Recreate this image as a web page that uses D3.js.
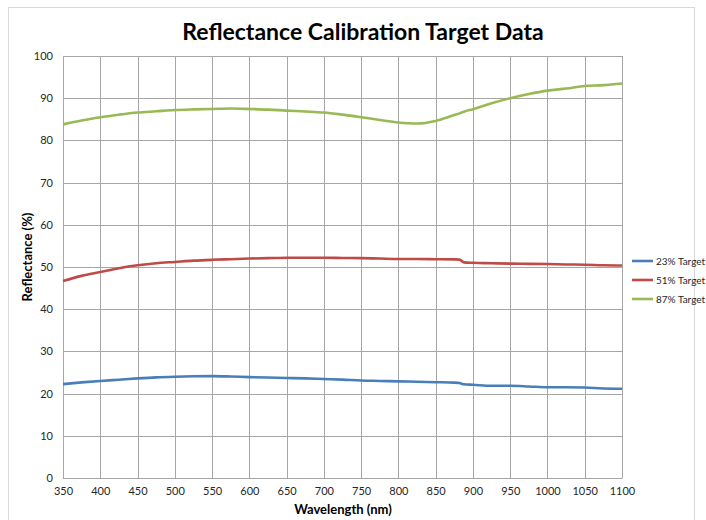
<!DOCTYPE html>
<html>
<head>
<meta charset="utf-8">
<script src="https://cdn.jsdelivr.net/npm/d3@7"></script>
<style>
  html, body { margin: 0; padding: 0; background: #fff; }
  svg { display: block; font-family: Lato, "Open Sans", "Liberation Sans", sans-serif; }
</style>
</head>
<body>
<svg id="chart" width="706" height="520"></svg>
<script>
// Wavelength samples (nm)
const wavelengths = [350,375,400,425,450,475,500,525,550,575,600,625,650,675,700,725,750,775,800,825,850,875,882,888,900,925,950,975,1000,1025,1050,1075,1100];

// Reflectance (%) of each calibration target
const target23 = [22.25,22.65,23.0,23.3,23.6,23.85,24.0,24.1,24.15,24.05,23.9,23.8,23.7,23.6,23.45,23.3,23.1,23.0,22.9,22.8,22.7,22.6,22.5,22.2,22.1,21.85,21.85,21.7,21.5,21.5,21.45,21.2,21.15];
const target51 = [46.7,47.9,48.8,49.7,50.4,50.9,51.2,51.5,51.7,51.85,52.0,52.1,52.2,52.2,52.2,52.15,52.1,52.0,51.9,51.9,51.85,51.8,51.75,51.1,51.0,50.9,50.8,50.75,50.7,50.6,50.55,50.4,50.35];
const target87 = [83.8,84.7,85.5,86.1,86.6,86.9,87.2,87.35,87.45,87.55,87.45,87.3,87.05,86.85,86.6,86.1,85.5,84.85,84.25,84.0,84.6,86.0,86.4,86.8,87.4,88.8,90.0,91.0,91.8,92.3,92.9,93.1,93.5];

const seriesNames = ["23% Target", "51% Target", "87% Target"];
const seriesColors = ["#4a7ebb", "#be4b48", "#98b954"];
const seriesValues = [target23, target51, target87];

const xTicks = d3.range(350, 1101, 50);
const yTicks = d3.range(0, 101, 10);

const svg = d3.select("#chart");
const margin = { left: 63, right: 84, top: 56, bottom: 42 };
const plotW = 622 - margin.left, plotH = 478 - margin.top;

// outer chart frame
svg.append("rect")
  .attr("x", 8.5).attr("y", 7.5).attr("width", 686).attr("height", 530)
  .attr("fill", "none").attr("stroke", "#d9d9d9").attr("stroke-width", 1);

const x = d3.scaleLinear().domain([350, 1100]).range([margin.left, margin.left + plotW]);
const y = d3.scaleLinear().domain([0, 100]).range([margin.top + plotH, margin.top]);

// gridlines
const grid = svg.append("g").attr("stroke", "#a6a6a6").attr("stroke-width", 1);
grid.selectAll("line.v").data(xTicks).join("line")
  .attr("x1", d => Math.round(x(d)) + 0.5).attr("x2", d => Math.round(x(d)) + 0.5)
  .attr("y1", y(0)).attr("y2", y(100));
grid.selectAll("line.h").data(yTicks).join("line")
  .attr("y1", d => Math.round(y(d)) + 0.5).attr("y2", d => Math.round(y(d)) + 0.5)
  .attr("x1", x(350)).attr("x2", x(1100));

// axes (labels only; the grid carries the lines)
const xAxis = svg.append("g")
  .attr("transform", `translate(0,${y(0)})`)
  .call(d3.axisBottom(x).tickValues(xTicks).tickFormat(d3.format("d")).tickSize(0).tickPadding(9));
const yAxis = svg.append("g")
  .attr("transform", `translate(${x(350)},0)`)
  .call(d3.axisLeft(y).tickValues(yTicks).tickFormat(d3.format("d")).tickSize(0).tickPadding(10));
[xAxis, yAxis].forEach(a => {
  a.select(".domain").attr("stroke", "#a6a6a6");
  a.selectAll("text").attr("font-size", 11).attr("fill", "#262626")
    .attr("font-family", "Lato, 'Open Sans', sans-serif");
});

// series lines
const line = d3.line()
  .x((d, i) => x(wavelengths[i]))
  .y(d => y(d))
  .curve(d3.curveMonotoneX);

seriesValues.forEach((vals, k) => {
  svg.append("path")
    .datum(vals)
    .attr("d", line)
    .attr("fill", "none")
    .attr("stroke", seriesColors[k])
    .attr("stroke-width", 2.6)
    .attr("stroke-linejoin", "round");
});

// title
svg.append("text")
  .attr("x", 363).attr("y", 40)
  .attr("text-anchor", "middle")
  .attr("font-size", 23).attr("font-weight", "bold").attr("fill", "#000")
  .text("Reflectance Calibration Target Data");

// axis titles
svg.append("text")
  .attr("x", 343).attr("y", 514)
  .attr("text-anchor", "middle")
  .attr("font-size", 13).attr("font-weight", "bold").attr("fill", "#000")
  .text("Wavelength (nm)");
svg.append("text")
  .attr("transform", "translate(32,257) rotate(-90)")
  .attr("text-anchor", "middle")
  .attr("font-size", 13).attr("font-weight", "bold").attr("fill", "#000")
  .text("Reflectance (%)");

// legend
const legend = svg.append("g");
seriesNames.forEach((name, k) => {
  const ly = 261 + k * 19;
  legend.append("line")
    .attr("x1", 632).attr("x2", 653).attr("y1", ly).attr("y2", ly)
    .attr("stroke", seriesColors[k]).attr("stroke-width", 2.6);
  legend.append("text")
    .attr("x", 656).attr("y", ly + 3.5)
    .attr("font-size", 10).attr("fill", "#262626")
    .text(name);
});
</script>
</body>
</html>
